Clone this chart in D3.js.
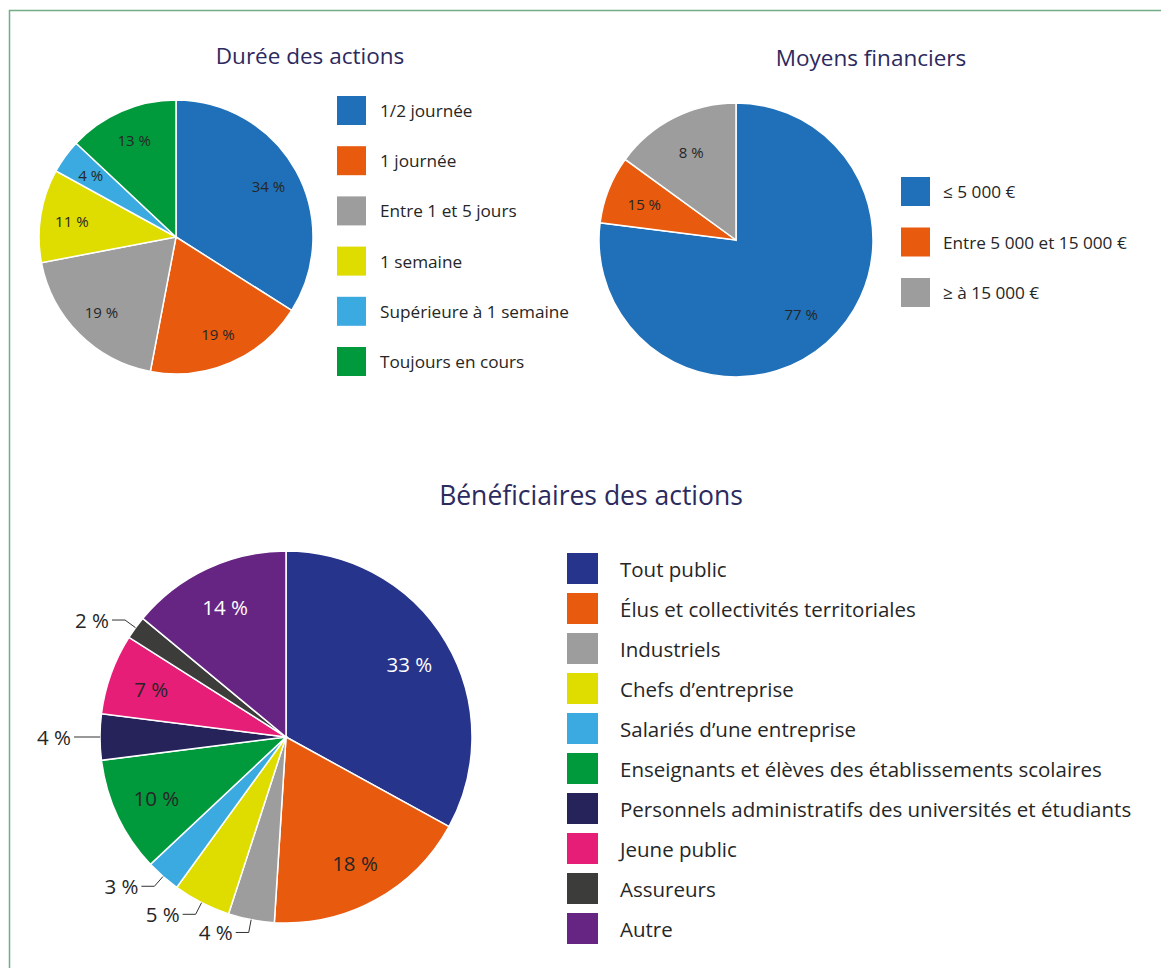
<!DOCTYPE html>
<html>
<head>
<meta charset="utf-8">
<script src="https://cdn.jsdelivr.net/npm/d3@7"></script>
<style>
  body { margin: 0; background: #fff; }
  svg text { font-family: "Open Sans", "Lato", sans-serif; }
</style>
</head>
<body>
<div id="chart"></div>
<script>
// Durée des actions
var dureeCats = ["1/2 journée", "1 journée", "Entre 1 et 5 jours", "1 semaine", "Supérieure à 1 semaine", "Toujours en cours"];
var dureeValues = [34, 19, 19, 11, 4, 13];
var dureeColors = ["#1f70b8", "#e85a0e", "#9d9d9d", "#dfdc00", "#3aaae1", "#009a3d"];

// Moyens financiers (slices as drawn, labels as printed)
var moyensCats = ["≤ 5 000 €", "Entre 5 000 et 15 000 €", "≥ à 15 000 €"];
var moyensValues = [77, 8, 15];
var moyensLabels = ["77 %", "15 %", "8 %"];
var moyensColors = ["#1f70b8", "#e85a0e", "#9d9d9d"];

// Bénéficiaires des actions
var benefCats = ["Tout public", "Élus et collectivités territoriales", "Industriels", "Chefs d’entreprise",
  "Salariés d’une entreprise", "Enseignants et élèves des établissements scolaires",
  "Personnels administratifs des universités et étudiants", "Jeune public", "Assureurs", "Autre"];
var benefValues = [33, 18, 4, 5, 3, 10, 4, 7, 2, 14];
var benefColors = ["#27348b", "#e85a0e", "#9d9d9d", "#dfdc00", "#3aaae1", "#009a3d",
  "#26235a", "#e61e78", "#3c3c3b", "#662483"];

var width = 1161, height = 968;
var titleColor = "#2c2a5e", textColor = "#262626";

var svg = d3.select("#chart")
    .append("svg")
      .attr("width", width)
      .attr("height", height);

// frame (only top and left edges visible)
svg.append("rect")
    .attr("x", 9.5).attr("y", 10.5)
    .attr("width", width + 20).attr("height", height + 20)
    .attr("fill", "none")
    .attr("stroke", "#72ad86")
    .attr("stroke-width", 1.5);

function drawPie(o) {
    var g = svg.append("g")
        .attr("transform", "translate(" + o.cx + "," + o.cy + ")");
    var pie = d3.pie().sort(null).value(function(d) { return d; });
    var arcs = pie(o.values);
    var arc = d3.arc().innerRadius(0).outerRadius(o.r);
    var labelArc = d3.arc().innerRadius(o.r * o.labelPos).outerRadius(o.r * o.labelPos);

    g.selectAll("path")
        .data(arcs)
        .enter()
        .append("path")
        .attr("d", arc)
        .attr("fill", function(d, i) { return o.colors[i]; })
        .attr("stroke", "#fff")
        .attr("stroke-width", 1.5);

    arcs.forEach(function(d, i) {
        var txt = o.labels ? o.labels[i] : d.value + " %";
        var a = (d.startAngle + d.endAngle) / 2;
        if (o.outside && d.value <= o.outside) {
            var p1 = [Math.sin(a) * o.r, -Math.cos(a) * o.r];
            var p2 = [Math.sin(a) * (o.r + 13), -Math.cos(a) * (o.r + 13)];
            var p3 = [p2[0] - 13, p2[1]];
            g.append("path")
                .attr("d", d3.line()([p1, p2, p3]))
                .attr("fill", "none")
                .attr("stroke", "#333")
                .attr("stroke-width", 1);
            g.append("text")
                .attr("x", p3[0] - 3)
                .attr("y", p3[1])
                .attr("text-anchor", "end")
                .attr("dominant-baseline", "central")
                .style("font-size", o.labelSize + "px")
                .style("fill", textColor)
                .text(txt);
        } else {
            var c = labelArc.centroid(d);
            g.append("text")
                .attr("x", c[0])
                .attr("y", c[1])
                .attr("text-anchor", "middle")
                .attr("dominant-baseline", "central")
                .style("font-size", o.labelSize + "px")
                .style("fill", d3.lab(o.colors[i]).l < 35 ? "#fff" : textColor)
                .text(txt);
        }
    });

    // legend
    var lg = svg.append("g");
    o.cats.forEach(function(c, i) {
        var y = o.legY + i * o.legStep;
        lg.append("rect")
            .attr("x", o.legX).attr("y", y)
            .attr("width", o.sq).attr("height", o.sq)
            .attr("fill", o.colors[i]);
        lg.append("text")
            .attr("x", o.legX + o.textGap)
            .attr("y", y + o.sq / 2)
            .attr("dominant-baseline", "central")
            .style("font-size", o.legSize + "px")
            .style("fill", textColor)
            .text(c);
    });

    svg.append("text")
        .attr("x", o.titleX)
        .attr("y", o.titleY)
        .attr("text-anchor", "middle")
        .style("font-size", o.titleSize + "px")
        .style("fill", titleColor)
        .text(o.title);
}

drawPie({
    title: "Durée des actions", titleX: 310, titleY: 64, titleSize: 22.5,
    cx: 176, cy: 237, r: 137, labelPos: 0.77, labelSize: 15,
    values: dureeValues, colors: dureeColors, cats: dureeCats,
    legX: 337, legY: 96, legStep: 50.2, sq: 29, textGap: 43, legSize: 17.2
});

drawPie({
    title: "Moyens financiers", titleX: 871, titleY: 66, titleSize: 22.5,
    cx: 736, cy: 240, r: 137, labelPos: 0.72, labelSize: 15,
    values: moyensValues, labels: moyensLabels, colors: moyensColors, cats: moyensCats,
    legX: 901, legY: 177, legStep: 50.5, sq: 29, textGap: 42, legSize: 17.2
});

drawPie({
    title: "Bénéficiaires des actions", titleX: 591, titleY: 505, titleSize: 26.5,
    cx: 286, cy: 737, r: 186, labelPos: 0.77, labelSize: 20.5, outside: 5,
    values: benefValues, colors: benefColors, cats: benefCats,
    legX: 567, legY: 553, legStep: 40, sq: 31, textGap: 53, legSize: 20.5
});
</script>
</body>
</html>
